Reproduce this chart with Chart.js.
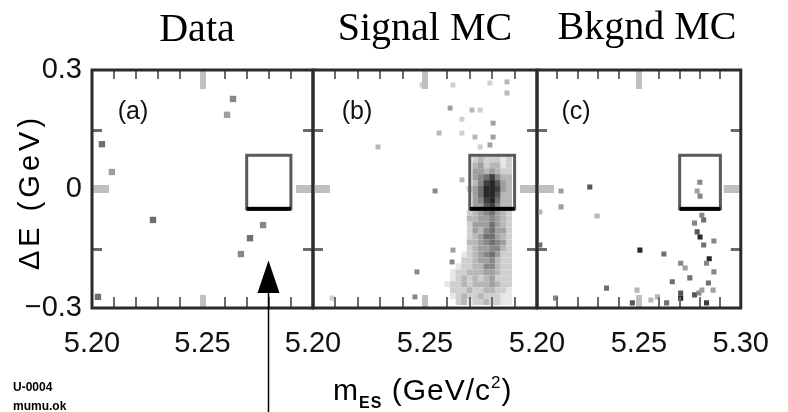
<!DOCTYPE html>
<html><head><meta charset="utf-8">
<script src="https://cdn.jsdelivr.net/npm/chart.js@4.4.0/dist/chart.umd.min.js"></script>
<style>
html,body{margin:0;padding:0;background:#fff;}
#wrap{position:relative;width:788px;height:412px;overflow:hidden;background:#fff;}
#wrap canvas{position:absolute;left:0;top:0;}
#wrap svg{position:absolute;left:0;top:0;}
</style></head><body>
<div id="wrap">
<canvas id="ca" width="788" height="412"></canvas>
<canvas id="cb" width="788" height="412"></canvas>
<canvas id="cc" width="788" height="412"></canvas>
<svg width="788" height="412" xmlns="http://www.w3.org/2000/svg">
  <g font-family="Liberation Serif, Times New Roman, serif" font-size="40" fill="#000" text-anchor="middle">
    <text x="197" y="41">Data</text>
    <text x="425" y="40">Signal MC</text>
    <text x="647" y="39">Bkgnd MC</text>
  </g>
  <g font-family="Liberation Sans, Arial, sans-serif" fill="#000">
    <text transform="translate(39,192) rotate(-90)" text-anchor="middle" font-size="29" letter-spacing="4">ΔE (GeV)</text>
    <text x="333" y="400" font-size="30" letter-spacing="1">m<tspan font-size="16" dy="8" font-weight="bold">ES</tspan><tspan dy="-8"> (GeV/c</tspan><tspan font-size="17" dy="-12">2</tspan><tspan dy="12">)</tspan></text>
    <text x="13" y="391" font-size="12" font-weight="bold">U-0004</text>
    <text x="13" y="410" font-size="12" font-weight="bold">mumu.ok</text>
  </g>
</svg>
</div>
<script>
// ---- axis ticks ----
const xTickValues = [5.20, 5.25, 5.30];
const xTickLabels = ['5.20', '5.25', '5.30'];
const yTickValues = [-0.3, 0, 0.3];
const yTickLabels = ['\u22120.3', '0', '0.3'];
const xMinorTicks = [5.21, 5.22, 5.23, 5.24, 5.26, 5.27, 5.28, 5.29];
const xMajorTicks = [5.25];
const yMinorTicks = [-0.15, 0.15];
const yMajorTicks = [0];
// ---- signal box & arrow ----
const boxMes = [5.270, 5.290];
const boxDE = [-0.050, 0.085];
const arrowMes = 5.2796;
const arrowDE = [-0.180, -0.262];

// ---- (a) Data ----
const dataMes = [5.2638, 5.2611, 5.2045, 5.2090, 5.2276, 5.2774, 5.2715, 5.2674, 5.2027];
const dataDE  = [0.227, 0.187, 0.113, 0.043, -0.078, -0.091, -0.124, -0.164, -0.272];
const dataLvl = [5, 4, 6, 4, 6, 5, 6, 5, 6];

// ---- (b) Signal MC: dense core as binned intensities + sparse points ----
const sigMesBins = [5.2600, 5.2625, 5.2650, 5.2675, 5.2700, 5.2725, 5.2750, 5.2775, 5.2800, 5.2825, 5.2850, 5.2875];
const sigDeBins = [0.075, 0.060, 0.045, 0.030, 0.015, 0.000, -0.015, -0.030, -0.045, -0.060, -0.075, -0.090,
                   -0.105, -0.120, -0.135, -0.150, -0.165, -0.180, -0.195, -0.210, -0.225, -0.240, -0.255, -0.270, -0.285];
const sigRows = [
  "000002322212",
  "000003423312",
  "000004434322",
  "000004568533",
  "000003589743",
  "000024699843",
  "000004699733",
  "000004589633",
  "000004478533",
  "000023456432",
  "000033445432",
  "000024446432",
  "000024356442",
  "000023466432",
  "000033456542",
  "000023445532",
  "000123456422",
  "000223445322",
  "001223355322",
  "012233344322",
  "012323234222",
  "122323334322",
  "022232233221",
  "012322322211",
  "002312232211"
];
const sigSparseMes = [5.2487, 5.2625, 5.2790, 5.2866, 5.2866, 5.2612, 5.2710, 5.2746, 5.2665, 5.2804, 5.2563, 5.2665,
                      5.2723, 5.2804, 5.2290, 5.2790, 5.2746, 5.2545, 5.2665, 5.2464, 5.2625, 5.2621, 5.2455, 5.2085];
const sigSparseDE  = [0.262, 0.262, 0.267, 0.270, 0.242, 0.204, 0.199, 0.199, 0.176, 0.166, 0.141, 0.141,
                      0.131, 0.131, 0.106, 0.111, 0.106, -0.005, 0.023, -0.209, -0.154, -0.184, -0.272, -0.275];
const sigSparseLvl = [2, 2, 2, 3, 3, 4, 3, 2, 2, 4, 3, 2,
                      3, 4, 3, 4, 2, 5, 3, 5, 4, 5, 5, 2];

// ---- (c) Background MC ----
const bkgMes = [5.2799, 5.2786, 5.2800, 5.2118, 5.2118, 5.2259, 5.2295, 5.2014, 5.2014, 5.2809, 5.2818, 5.2773,
                5.2786, 5.2800, 5.2818, 5.2868, 5.2505, 5.2623, 5.2705, 5.2727, 5.2750, 5.2664, 5.2845, 5.2832,
                5.2868, 5.2841, 5.2864, 5.2341, 5.2491, 5.2591, 5.2559, 5.2705, 5.2705, 5.2773, 5.2795, 5.2809,
                5.2091, 5.2468, 5.2636, 5.2832];
const bkgDE  = [0.017, -0.005, -0.018, -0.005, -0.045, 0.005, -0.068, -0.058, -0.141, -0.066, -0.078, -0.086,
                -0.108, -0.121, -0.141, -0.131, -0.154, -0.164, -0.187, -0.199, -0.224, -0.234, -0.176, -0.187,
                -0.209, -0.237, -0.255, -0.250, -0.255, -0.272, -0.280, -0.262, -0.275, -0.267, -0.262, -0.255,
                -0.275, -0.287, -0.287, -0.287];
const bkgLvl = [5, 4, 5, 4, 4, 7, 3, 3, 6, 5, 6, 5,
                7, 9, 6, 5, 9, 6, 5, 4, 6, 6, 9, 5,
                5, 6, 4, 6, 3, 3, 3, 7, 9, 7, 5, 4,
                5, 7, 6, 8];

const FONT = "'Liberation Sans', Arial, sans-serif";
const gray = l => { const g = Math.max(0, 255 - l * 24); return `rgb(${g},${g},${g})`; };

function pts(xs, ys) { return xs.map((v, i) => ({ x: v, y: ys[i] })); }

function sigCells() {
  const p = [], c = [];
  sigRows.forEach((row, r) => {
    for (let k = 0; k < row.length; k++) {
      const l = +row[k];
      if (l > 0) { p.push({ x: sigMesBins[k], y: sigDeBins[r] }); c.push(gray(l)); }
    }
  });
  return { p, c };
}

const deco = {
  id: 'deco',
  afterDatasetsDraw(chart, args, o) {
    const { ctx, chartArea: a, scales: { x, y } } = chart;
    ctx.save();
    // inward minor ticks
    ctx.fillStyle = '#6a6a6a';
    xMinorTicks.forEach(v => {
      const px = Math.round(x.getPixelForValue(v));
      ctx.fillRect(px - 1, a.top, 2, 9);
      ctx.fillRect(px - 1, a.bottom - 11, 2, 11);
    });
    yMinorTicks.forEach(v => {
      const py = Math.round(y.getPixelForValue(v));
      ctx.fillRect(a.left, py - 1, 10, 3);
      ctx.fillRect(a.right - 10, py - 1, 10, 3);
    });
    ctx.fillStyle = '#c0c0c0';
    xMajorTicks.forEach(v => {
      const px = Math.round(x.getPixelForValue(v));
      ctx.fillRect(px - 3, a.top, 6, 19);
      ctx.fillRect(px - 3, a.bottom - 13, 6, 13);
    });
    yMajorTicks.forEach(v => {
      const py = Math.round(y.getPixelForValue(v));
      ctx.fillRect(a.left, py - 4, 17, 8);
      ctx.fillRect(a.right - 17, py - 4, 17, 8);
    });
    // signal box
    const bx1 = x.getPixelForValue(boxMes[0]), bx2 = x.getPixelForValue(boxMes[1]);
    const by1 = y.getPixelForValue(boxDE[1]), by2 = y.getPixelForValue(boxDE[0]);
    ctx.lineWidth = 3; ctx.strokeStyle = '#5a5a5a';
    ctx.strokeRect(bx1, by1, bx2 - bx1, by2 - by1);
    ctx.fillStyle = '#000';
    ctx.fillRect(bx1, by2 - 2, bx2 - bx1, 4);
    // frame
    ctx.strokeStyle = '#2b2b2b'; ctx.lineWidth = 3;
    ctx.strokeRect(a.left, a.top, a.right - a.left, a.bottom - a.top);
    // panel label
    ctx.fillStyle = '#111';
    ctx.font = '25px ' + FONT;
    ctx.textAlign = 'center'; ctx.textBaseline = 'middle';
    ctx.fillText(o.label, a.left + o.labelDx, a.top + 42);
    // arrow
    if (o.arrow) {
      const ax = Math.round(x.getPixelForValue(arrowMes)) + 0.5;
      const tip = y.getPixelForValue(arrowDE[0]), base = y.getPixelForValue(arrowDE[1]);
      ctx.fillStyle = '#000';
      ctx.beginPath();
      ctx.moveTo(ax, tip); ctx.lineTo(ax - 11, base); ctx.lineTo(ax + 11, base); ctx.closePath();
      ctx.fill();
      ctx.strokeStyle = '#000'; ctx.lineWidth = 1.5;
      ctx.beginPath(); ctx.moveTo(ax, base); ctx.lineTo(ax, chart.height); ctx.stroke();
    }
    ctx.restore();
  }
};

function makeChart(id, datasets, cfg) {
  return new Chart(document.getElementById(id), {
    type: 'scatter',
    data: { datasets },
    options: {
      responsive: false, animation: false, devicePixelRatio: 1,
      layout: { padding: { left: cfg.padLeft, right: cfg.padRight, top: 70, bottom: 54 } },
      plugins: { legend: { display: false }, tooltip: { enabled: false }, deco: cfg },
      scales: {
        x: {
          type: 'linear', position: 'bottom', min: 5.2, max: 5.3,
          afterBuildTicks: ax => { ax.ticks = xTickValues.map(v => ({ value: v })); },
          afterFit: ax => { ax.height = 50; },
          grid: { display: false, drawTicks: false }, border: { display: false },
          ticks: {
            autoSkip: false, maxRotation: 0, minRotation: 0, padding: 19, color: '#111',
            font: { family: FONT, size: 29 },
            callback: (v, i) => (cfg.lastX || i < 2) ? xTickLabels[i] : ''
          }
        },
        y: {
          type: 'linear', position: 'left', min: -0.3, max: 0.3,
          afterBuildTicks: ax => { ax.ticks = yTickValues.map(v => ({ value: v })); },
          afterFit: ax => { ax.width = 92; },
          grid: { display: false, drawTicks: false }, border: { display: false },
          ticks: {
            display: cfg.showY, padding: 10, color: '#111',
            font: { family: FONT, size: 29 },
            callback: (v, i) => yTickLabels[i]
          }
        }
      }
    },
    plugins: [deco]
  });
}

const pointBase = { pointStyle: 'rect', pointBorderWidth: 0, showLine: false };

makeChart('ca', [
  Object.assign({ label: 'Data', data: pts(dataMes, dataDE), pointRadius: 4.5,
    pointBackgroundColor: dataLvl.map(gray) }, pointBase)
], { padLeft: 0, padRight: 475, showY: true, lastX: false, label: '(a)', labelDx: 41, arrow: true });

const sc = sigCells();
makeChart('cb', [
  Object.assign({ label: 'Signal MC core', data: sc.p, pointRadius: 4.2,
    pointBackgroundColor: sc.c }, pointBase),
  Object.assign({ label: 'Signal MC', data: pts(sigSparseMes, sigSparseDE), pointRadius: 3.5,
    pointBackgroundColor: sigSparseLvl.map(gray) }, pointBase)
], { padLeft: 221, padRight: 251, showY: false, lastX: false, label: '(b)', labelDx: 44, arrow: false });

makeChart('cc', [
  Object.assign({ label: 'Bkgnd MC', data: pts(bkgMes, bkgDE), pointRadius: 3.6,
    pointBackgroundColor: bkgLvl.map(gray) }, pointBase)
], { padLeft: 445, padRight: 31, showY: false, lastX: true, label: '(c)', labelDx: 39, arrow: false });
</script>
</body></html>
